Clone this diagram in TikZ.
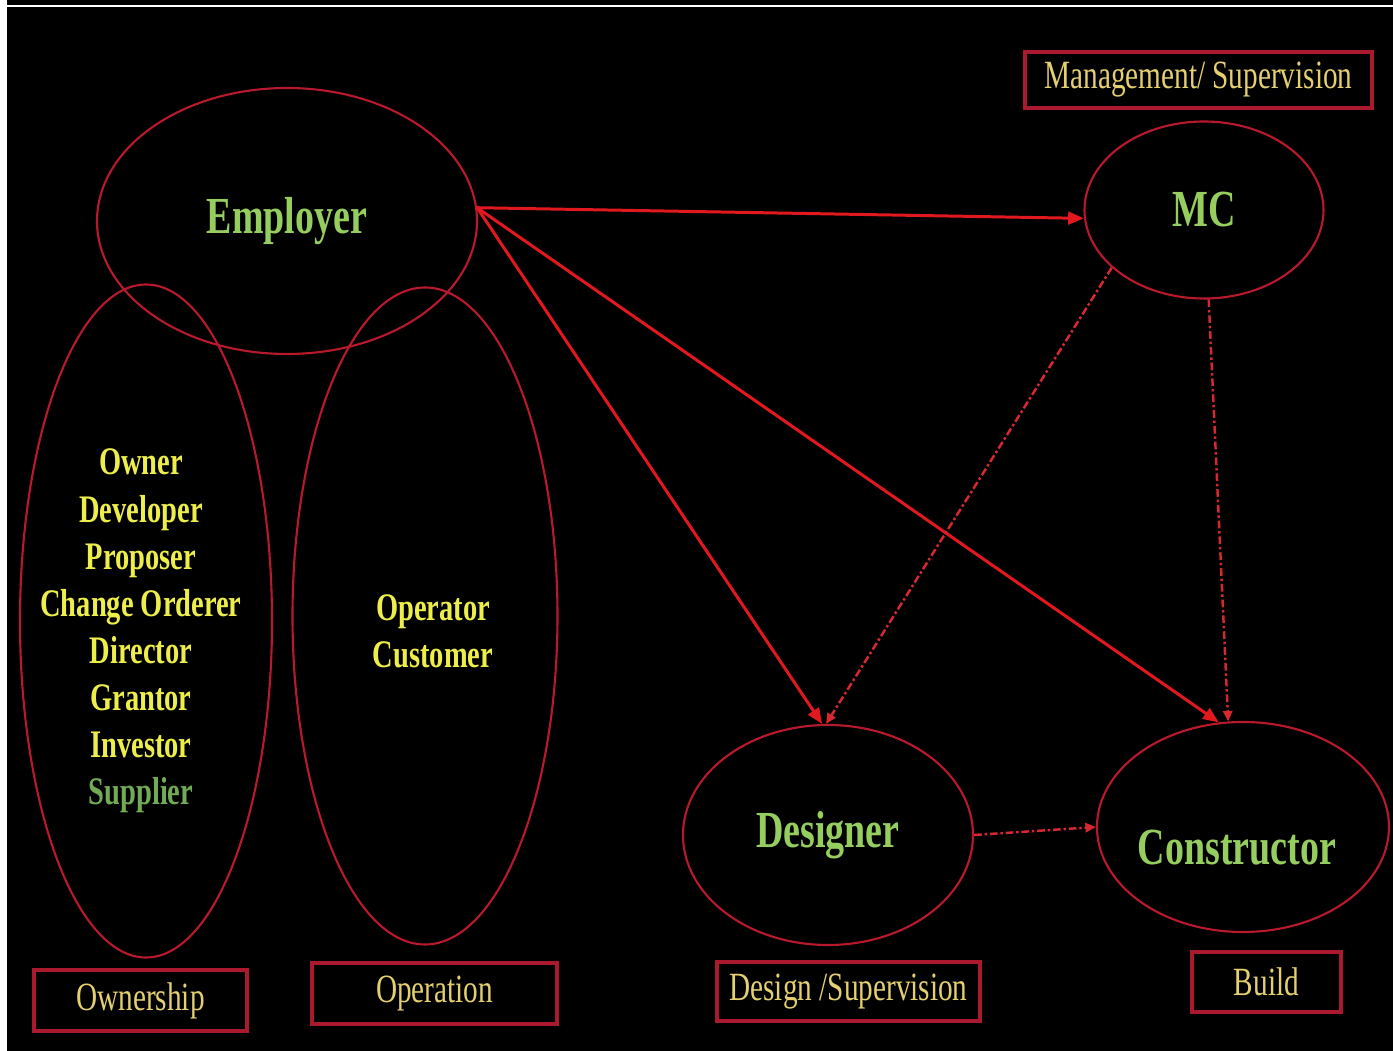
\documentclass[tikz,border=0pt]{standalone}
\usepackage{fontspec}
\setmainfont{Liberation Serif}[FakeStretch=0.73]
\usetikzlibrary{shapes.geometric,arrows.meta}
\definecolor{bubblered}{RGB}{185,25,45}
\definecolor{boxred}{RGB}{170,25,45}
\definecolor{linkred}{RGB}{225,25,30}
\definecolor{dotred}{RGB}{215,40,50}
\definecolor{namegreen}{RGB}{150,205,95}
\definecolor{suppgreen}{RGB}{115,170,85}
\definecolor{listyellow}{RGB}{238,238,75}
\definecolor{taggold}{RGB}{228,208,112}
\tikzset{
  role-bubble/.style={ellipse, draw=bubblered, line width=0.6pt, inner sep=0pt},
  tag-box/.style={
    draw=boxred,
    line width=0.9pt,
    inner sep=0pt,
    text=taggold,
    font=\fontsize{11.4}{13}\selectfont
  },
  big-name/.style={text=namegreen, font=\fontsize{14.8}{17}\selectfont\bfseries},
  list-text/.style={text=listyellow, align=center, font=\fontsize{11.1}{13.4}\selectfont\bfseries},
  link/.style={draw=linkred, line width=0.85pt, -{Triangle[length=4.5pt,width=3.6pt]}},
  link-dotted/.style={
    draw=dotred,
    line width=0.7pt,
    dash pattern=on 2.2pt off 0.8pt on 0.7pt off 0.8pt,
    -{Triangle[length=3pt,width=2.6pt]}
  }
}

\begin{document}
\begin{tikzpicture}
  \useasboundingbox (0,0) rectangle (13.93,-10.51);
  % page background with the thin white frame
  \fill[white] (0,0) rectangle (13.93,-10.51);
  \fill[black] (0.07,0) rectangle (13.93,-10.51);
  \draw[white, line width=0.5pt] (0.07,-0.06) -- (13.93,-0.06);

  % Employer and its two roles
  \node[role-bubble, big-name, minimum width=3.80cm, minimum height=2.66cm] (emp) at (2.87,-2.21) {Employer};
  \node[role-bubble, minimum width=2.52cm, minimum height=6.73cm] (own) at (1.46,-6.21) {};
  \node[role-bubble, minimum width=2.65cm, minimum height=6.57cm] (opr) at (4.25,-6.16) {};
  \node[list-text] (own-list) at (1.41,-6.31)
    {Owner\\Developer\\Proposer\\Change Orderer\\Director\\Grantor\\Investor\\\textcolor{suppgreen}{Supplier}};
  \node[list-text] (opr-list) at (4.33,-6.31) {Operator\\Customer};

  % the other parties
  \node[role-bubble, big-name, minimum width=2.39cm, minimum height=1.77cm] (mc) at (12.04,-2.10) {MC};
  \node[role-bubble, big-name, minimum width=2.90cm, minimum height=2.20cm] (des) at (8.28,-8.35) {Designer};
  \node[role-bubble, minimum width=2.92cm, minimum height=2.10cm] (con) at (12.43,-8.27) {};
  \node[big-name] (con-name) at (12.37,-8.48) {Constructor};

  % tags
  \node[tag-box, minimum width=3.47cm, minimum height=0.56cm] (mgmt-tag) at (11.985,-0.80) {Management/ Supervision};
  \node[tag-box, minimum width=2.13cm, minimum height=0.61cm] (own-tag) at (1.405,-10.005) {Ownership};
  \node[tag-box, minimum width=2.45cm, minimum height=0.61cm] (opr-tag) at (4.345,-9.935) {Operation};
  \node[tag-box, minimum width=2.63cm, minimum height=0.59cm] (des-tag) at (8.485,-9.915) {Design /Supervision};
  \node[tag-box, minimum width=1.49cm, minimum height=0.60cm] (con-tag) at (12.665,-9.82) {Build};

  % links
  \coordinate (emp-out) at (emp.4);
  \draw[link] (emp-out) -- (mc.184);
  \draw[link] (emp-out) -- (des.93);
  \draw[link] (emp-out) -- (con.103);
  \draw[link-dotted] (mc.212) -- (des.91);
  \draw[link-dotted] (mc.273) -- (con.98);
  \draw[link-dotted] (des.east) -- (con.west);
\end{tikzpicture}
\end{document}
